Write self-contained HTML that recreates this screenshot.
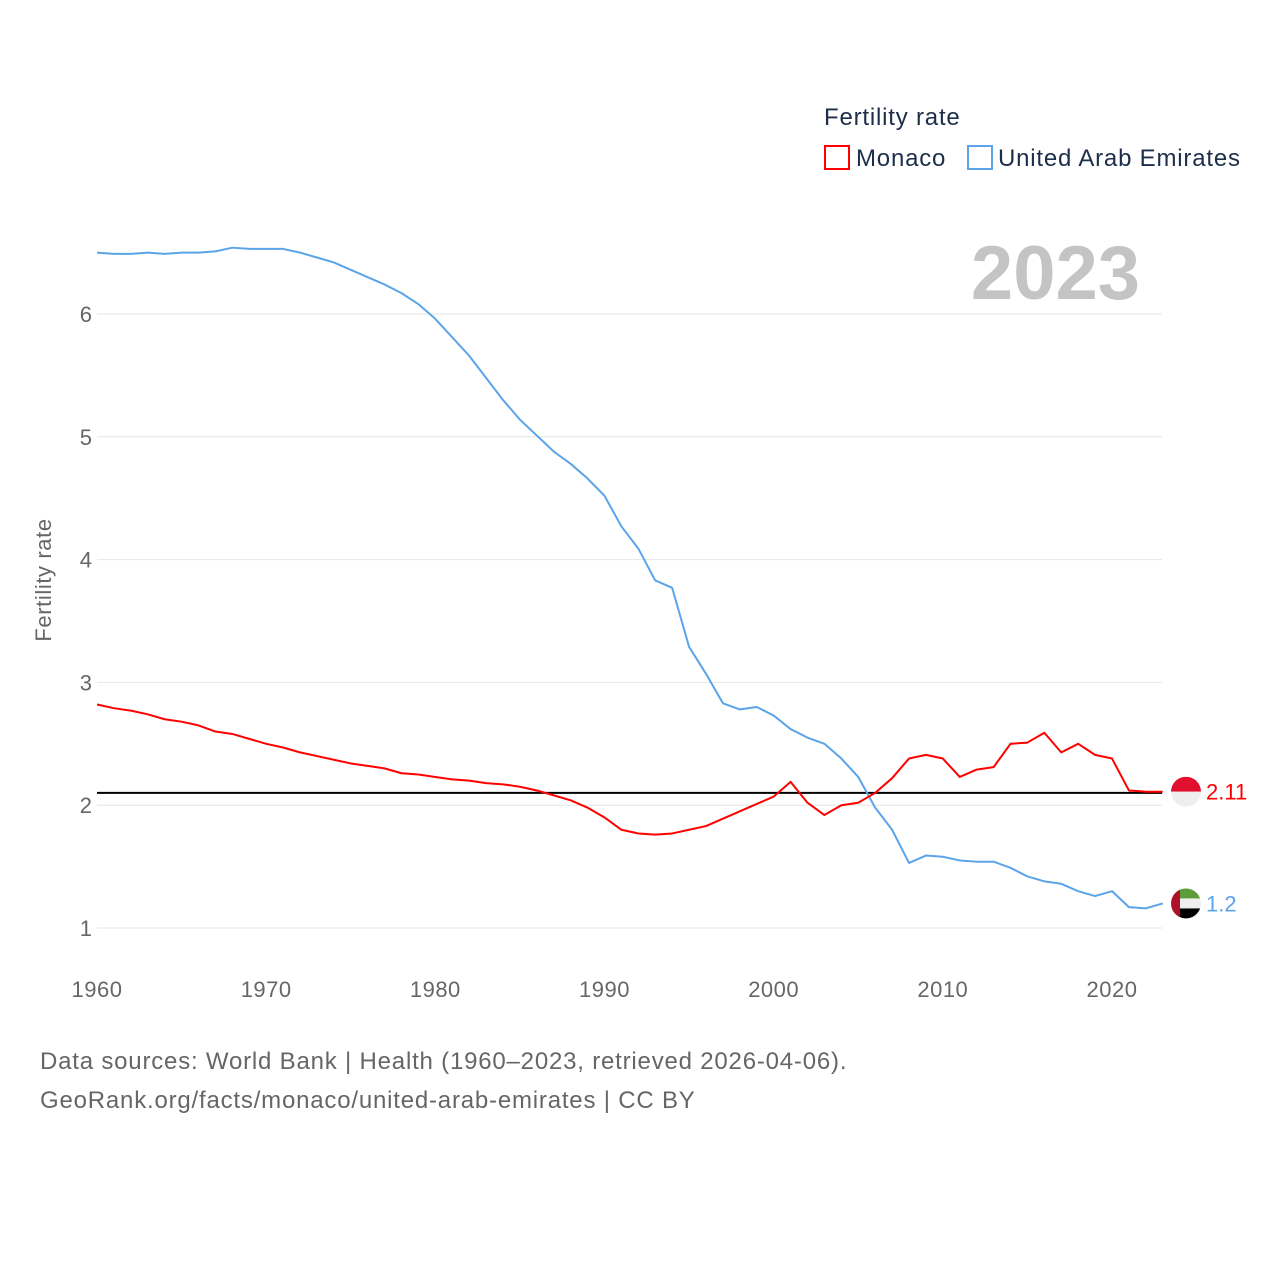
<!DOCTYPE html>
<html><head><meta charset="utf-8"><style>
body{margin:0;background:#fff;font-family:"Liberation Sans",sans-serif}
svg text{font-family:"Liberation Sans",sans-serif}
</style></head><body>
<svg id="chart" width="1280" height="1280" xmlns="http://www.w3.org/2000/svg">
<text x="824" y="125" font-size="24" letter-spacing="0.8" fill="#1c2e4a">Fertility rate</text>
<g><rect x="825" y="146" width="24" height="23" fill="none" stroke="#f00" stroke-width="2"/><text x="856" y="166" font-size="24" letter-spacing="0.8" fill="#1c2e4a">Monaco</text></g>
<g><rect x="968" y="146" width="24" height="23" fill="none" stroke="#5ba4ea" stroke-width="2"/><text x="998" y="166" font-size="24" letter-spacing="0.8" fill="#1c2e4a">United Arab Emirates</text></g>
<text x="1140" y="299" font-size="76" font-weight="bold" fill="#c4c4c4" text-anchor="end">2023</text>
<text transform="translate(51,580) rotate(-90)" font-size="22" letter-spacing="0.6" fill="#666" text-anchor="middle">Fertility rate</text>
<g id="grid"></g><g id="series"></g>
<text x="40" y="1069" font-size="24" letter-spacing="0.8" fill="#666">Data sources: World Bank | Health (1960–2023, retrieved 2026-04-06).</text>
<text x="40" y="1108" font-size="24" letter-spacing="0.8" fill="#666">GeoRank.org/facts/monaco/united-arab-emirates | CC BY</text>
</svg>
<script>
const years=[];for(let y=1960;y<=2023;y++)years.push(y);
const yTicks=[1,2,3,4,5,6];
const xTicks=[1960,1970,1980,1990,2000,2010,2020];
const uae=[6.50,6.49,6.49,6.50,6.49,6.50,6.50,6.51,6.54,6.53,6.53,6.53,6.50,6.46,6.42,6.36,6.30,6.24,6.17,6.08,5.96,5.81,5.66,5.48,5.30,5.14,5.01,4.88,4.78,4.66,4.52,4.27,4.09,3.83,3.77,3.29,3.07,2.83,2.78,2.80,2.73,2.62,2.55,2.50,2.38,2.23,1.98,1.80,1.53,1.59,1.58,1.55,1.54,1.54,1.49,1.42,1.38,1.36,1.30,1.26,1.30,1.17,1.16,1.20];
const monaco=[2.82,2.79,2.77,2.74,2.70,2.68,2.65,2.60,2.58,2.54,2.50,2.47,2.43,2.40,2.37,2.34,2.32,2.30,2.26,2.25,2.23,2.21,2.20,2.18,2.17,2.15,2.12,2.08,2.04,1.98,1.90,1.80,1.77,1.76,1.77,1.80,1.83,1.89,1.95,2.01,2.07,2.19,2.02,1.92,2.00,2.02,2.10,2.22,2.38,2.41,2.38,2.23,2.29,2.31,2.50,2.51,2.59,2.43,2.50,2.41,2.38,2.12,2.11,2.11];
const refLine=[2.1];
const X=y=>97+(y-1960)*(1112-97)/60;
const Y=v=>928-(v-1)*122.8;
const NS="http://www.w3.org/2000/svg";
const g=document.getElementById('grid'),s=document.getElementById('series');
function el(t,a,p){const e=document.createElementNS(NS,t);for(const k in a)e.setAttribute(k,a[k]);p.appendChild(e);return e;}
yTicks.forEach(v=>{
 const l=el('line',{x1:97,x2:1162,y1:Y(v),y2:Y(v),stroke:'#e6e6e6','stroke-width':1},g);
 
 
 const t=el('text',{x:92,y:Y(v)+8,'font-size':22,fill:'#666','text-anchor':'end'},g);t.textContent=v;
 
 
});
xTicks.forEach(v=>{
 const t=el('text',{x:X(v),y:997,'font-size':22,'letter-spacing':0.5,fill:'#666','text-anchor':'middle'},g);t.textContent=v;
 
 
});
const rl=el('line',{x1:97,x2:1162,y1:Y(refLine[0]),y2:Y(refLine[0]),stroke:'#000','stroke-width':2},s);


function line(d,c,n){const p=el('polyline',{points:d.map((v,i)=>X(years[i])+','+Y(v)).join(' '),fill:'none',stroke:c,'stroke-width':2,'stroke-linejoin':'round'},s);
 
 }
line(uae,'#5ba4ea','uae-line');line(monaco,'#f00','monaco-line');
const last=years.length-1;
const my=Y(monaco[last]);
const mf=el('g',{},s);


const cp1=el('clipPath',{id:'c1'},mf);el('circle',{cx:1186,cy:my,r:15},cp1);
el('rect',{x:1171,y:my-15,width:30,height:15,fill:'#e0102e','clip-path':'url(#c1)'},mf);
el('rect',{x:1171,y:my,width:30,height:15,fill:'#eee','clip-path':'url(#c1)'},mf);
const mt=el('text',{x:1206,y:my+8,'font-size':22,fill:'#f00'},s);mt.textContent=monaco[last].toFixed(2);


const uy=Y(uae[last]);
const uf=el('g',{},s);


const cp=el('clipPath',{id:'c2'},uf);el('circle',{cx:1186,cy:uy,r:15},cp);
el('rect',{x:1171,y:uy-15,width:30,height:10,fill:'#5c9c3a','clip-path':'url(#c2)'},uf);
el('rect',{x:1171,y:uy-5,width:30,height:10,fill:'#eee','clip-path':'url(#c2)'},uf);
el('rect',{x:1171,y:uy+5,width:30,height:10,fill:'#000','clip-path':'url(#c2)'},uf);
el('rect',{x:1171,y:uy-15,width:9,height:30,fill:'#b0102a','clip-path':'url(#c2)'},uf);
const ut=el('text',{x:1206,y:uy+8,'font-size':22,fill:'#5ba4ea'},s);ut.textContent=String(uae[last]);


</script>
</body></html>
